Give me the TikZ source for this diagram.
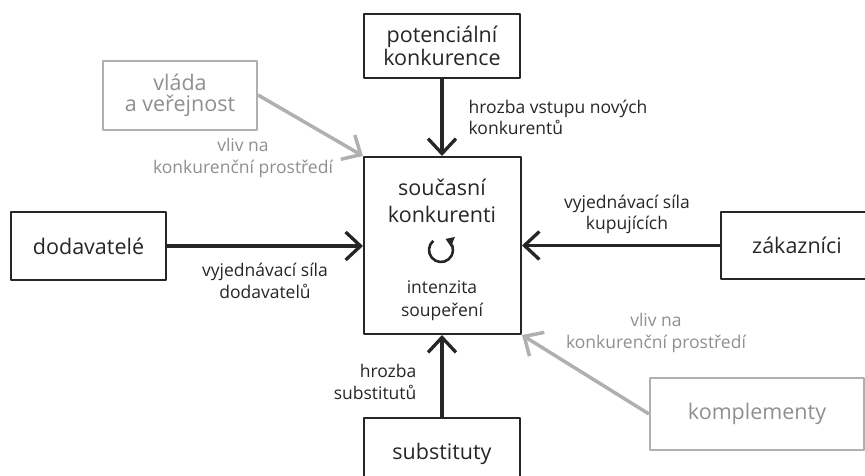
\documentclass[tikz,border=0pt]{standalone}
\usepackage{fontspec}
\setmainfont{Open Sans}
\usetikzlibrary{arrows.meta}
\definecolor{ink}{HTML}{262626}
\definecolor{greyline}{HTML}{B0B0B0}
\definecolor{greytext}{HTML}{8F8F8F}
\newcommand\boxfnt{\fontsize{21.5}{21}\selectfont}
\newcommand\lblfnt{\fontsize{17.5}{21.5}\selectfont}
\begin{document}
\begin{tikzpicture}[x=1pt, y=1pt, line join=round,
    >={Straight Barb[length=15pt,width=28pt]},
    box/.style={draw=ink, line width=2pt, text=ink, align=center, inner sep=0pt, font=\boxfnt},
    greybox/.style={box, draw=greyline, text=greytext},
    force/.style={->, line width=3.3pt, draw=ink},
    influence/.style={->, line width=3.5pt, draw=greyline},
    lbl/.style={text=ink, font=\lblfnt, inner sep=0pt},
    greylbl/.style={lbl, text=greytext, align=center}]
\useasboundingbox (0,0) rectangle (865,-475);

\node[box, minimum width=156, minimum height=64] (pot) at (442,-46) {potenciální\\konkurence};
\node[box, minimum width=157, minimum height=177] (cur) at (442.5,-245.5) {};
\node[box, draw=none, font={\fontsize{21.5}{27.5}\selectfont}] (curname) at (442,-201) {současní\\konkurenti};
\node[lbl, align=center, font={\fontsize{17.5}{23}\selectfont}] (curnote) at (442,-301) {intenzita\\soupeření};
\coordinate (spin) at (441,-250);
\draw[ink, line width=2.6pt, -{Triangle[length=8pt,width=10pt]}] (spin) ++(130:12) arc[start angle=130, end angle=428, radius=12];

\node[box, minimum width=155, minimum height=68] (dod) at (88.5,-246) {dodavatelé};
\node[box, minimum width=152, minimum height=67] (zak) at (797,-245.5) {zákazníci};
\node[box, minimum width=156, minimum height=72] (sub) at (442,-454) {substituty};
\node[greybox, minimum width=154, minimum height=69] (vlada) at (180,-95) {vláda\\a veřejnost};
\node[greybox, minimum width=214, minimum height=72] (kompl) at (757,-414) {komplementy};

\draw[force] (pot.south) -- (pot.south |- cur.north)
    node[midway, lbl, anchor=west, xshift=25pt, align=left] (potlbl) {hrozba vstupu nových\\konkurentů};
\draw[force] (dod.east) -- (dod.east -| cur.west)
    node[midway, lbl, align=center, yshift=-35pt] (dodlbl) {vyjednávací síla\\dodavatelů};
\draw[force] (zak.west) -- (zak.west -| cur.east)
    node[midway, lbl, align=center, xshift=6pt, yshift=31pt] (zaklbl) {vyjednávací síla\\kupujících};
\draw[force] (sub.north) -- (sub.north |- cur.south)
    node[midway, lbl, anchor=east, align=right, xshift=-24pt, yshift=-6pt] (sublbl) {hrozba\\substitutů};

\draw[influence] (vlada.east) -- (cur.north west);
\draw[influence] (kompl.west) -- (cur.south east);
\node[greylbl] (vladalbl) at (243,-158) {vliv na\\konkurenční prostředí};
\node[greylbl] (kompllbl) at (656,-333) {vliv na\\konkurenční prostředí};
\end{tikzpicture}
\end{document}
